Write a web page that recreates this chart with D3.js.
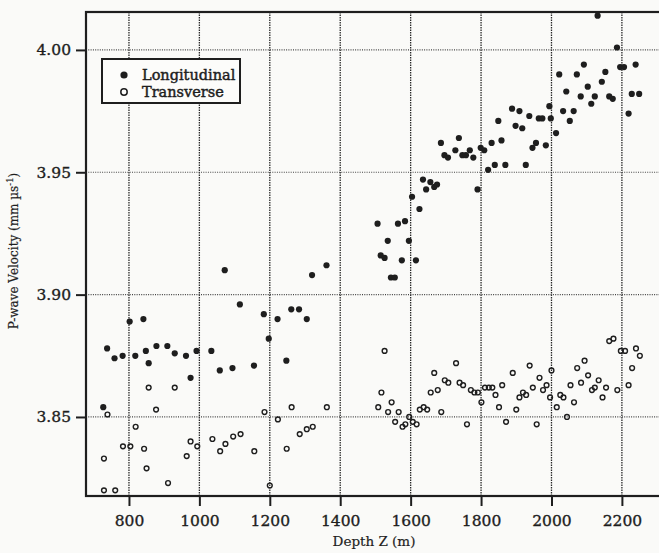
<!DOCTYPE html>
<html>
<head>
<meta charset="utf-8">
<script src="https://cdn.jsdelivr.net/npm/d3@7"></script>
<style>
  body { margin: 0; background: #fafaf8; }
  svg { display: block; }
  text { font-family: 'DejaVu Serif', serif; fill: #1e1e1e; }
</style>
</head>
<body>
<svg id="chart"></svg>
<script>
const INK = '#1e1e1e';
const SERIF = "'DejaVu Serif', serif";

// [depth (m), velocity (mm/us)]
var longitudinal = [
    [727,3.854],[738,3.878],[759,3.874],[782,3.875],[802,3.889],[818,3.875],[841,3.890],[848,3.877],
    [856,3.872],[878,3.879],[909,3.879],[930,3.876],[962,3.875],[975,3.866],[992,3.877],[1034,3.877],
    [1058,3.869],[1072,3.910],[1094,3.870],[1115,3.896],[1155,3.871],[1183,3.892],[1197,3.882],[1222,3.890],
    [1247,3.873],[1261,3.894],[1283,3.894],[1305,3.890],[1320,3.908],[1361,3.912],
    [1506,3.929],[1515,3.916],[1526,3.915],[1535,3.922],[1544,3.907],[1555,3.907],[1564,3.929],[1575,3.914],
    [1584,3.930],[1595,3.922],[1604,3.940],[1615,3.914],[1625,3.935],[1635,3.947],[1644,3.943],[1656,3.946],
    [1667,3.944],[1675,3.945],[1686,3.962],[1696,3.957],[1706,3.956],[1727,3.959],[1737,3.964],[1747,3.957],
    [1757,3.957],[1768,3.959],[1778,3.956],[1790,3.943],[1799,3.960],[1809,3.959],[1820,3.951],[1830,3.962],
    [1839,3.953],[1849,3.971],[1858,3.963],[1869,3.953],[1888,3.976],[1898,3.969],[1909,3.975],[1917,3.968],
    [1927,3.953],[1937,3.973],[1946,3.960],[1956,3.962],[1964,3.972],[1974,3.972],[1984,3.961],[1994,3.977],
    [1998,3.972],[2013,3.966],[2022,3.990],[2033,3.975],[2042,3.983],[2052,3.971],[2063,3.975],[2072,3.990],
    [2083,3.981],[2092,3.994],[2103,3.985],[2113,3.978],[2123,3.981],[2131,4.014],[2143,3.987],[2153,3.991],
    [2164,3.981],[2174,3.980],[2186,4.001],[2195,3.993],[2206,3.993],[2219,3.974],[2228,3.982],[2239,3.994],
    [2249,3.982]
];

var transverse = [
    [729,3.833],[729,3.820],[739,3.851],[761,3.820],[783,3.838],[804,3.838],[819,3.846],[843,3.837],
    [850,3.829],[856,3.862],[877,3.853],[911,3.823],[930,3.862],[964,3.834],[975,3.840],[994,3.838],
    [1037,3.841],[1059,3.836],[1074,3.839],[1096,3.842],[1117,3.843],[1156,3.836],[1185,3.852],[1200,3.822],
    [1223,3.849],[1248,3.837],[1262,3.854],[1285,3.843],[1305,3.845],[1322,3.846],[1362,3.854],
    [1508,3.854],[1517,3.860],[1526,3.877],[1536,3.852],[1546,3.856],[1556,3.848],[1566,3.852],[1577,3.846],
    [1585,3.847],[1596,3.850],[1606,3.848],[1617,3.847],[1626,3.853],[1637,3.854],[1647,3.853],[1657,3.860],
    [1667,3.868],[1677,3.861],[1687,3.852],[1697,3.865],[1707,3.864],[1729,3.872],[1739,3.864],[1749,3.863],
    [1760,3.847],[1771,3.861],[1781,3.860],[1791,3.860],[1801,3.856],[1811,3.862],[1822,3.862],[1832,3.862],
    [1841,3.859],[1851,3.854],[1860,3.863],[1871,3.848],[1890,3.868],[1900,3.853],[1909,3.858],[1919,3.860],
    [1928,3.859],[1938,3.871],[1947,3.862],[1958,3.847],[1966,3.866],[1976,3.861],[1986,3.863],[1996,3.858],
    [2000,3.869],[2015,3.854],[2025,3.859],[2034,3.858],[2044,3.850],[2054,3.863],[2064,3.856],[2073,3.870],
    [2084,3.864],[2094,3.873],[2104,3.867],[2115,3.861],[2123,3.862],[2134,3.865],[2145,3.858],[2155,3.862],
    [2164,3.881],[2176,3.882],[2187,3.861],[2197,3.877],[2209,3.877],[2219,3.863],[2229,3.870],[2240,3.878],
    [2251,3.875]
];

var depthTicks = [800, 1000, 1200, 1400, 1600, 1800, 2000, 2200];
var velocityTicks = [3.85, 3.90, 3.95, 4.00];
var depthRange = [678, 2365];
var velocityRange = [3.8177, 4.0155];
var seriesNames = ['Longitudinal', 'Transverse'];

var width = 659, height = 553;
var plot = {left: 86, right: 680, top: 12, bottom: 496};

var svg = d3.select('#chart').attr('width', width).attr('height', height);

var x = d3.scaleLinear().domain(depthRange).range([plot.left, plot.right]);
var y = d3.scaleLinear().domain(velocityRange).range([plot.bottom, plot.top]);

// grid
var grid = svg.append('g');
grid.selectAll('line.v').data(depthTicks).enter().append('line')
    .attr('x1', d => x(d)).attr('x2', d => x(d))
    .attr('y1', plot.top).attr('y2', plot.bottom)
    .attr('stroke', '#2a2a2a').attr('stroke-width', 1.3).attr('stroke-dasharray', '1.5,1');
grid.selectAll('line.h').data(velocityTicks).enter().append('line')
    .attr('x1', plot.left).attr('x2', plot.right)
    .attr('y1', d => y(d)).attr('y2', d => y(d))
    .attr('stroke', '#444').attr('stroke-width', 1.2).attr('stroke-dasharray', '1,1.3');

// axes
var xAxis = d3.axisBottom(x).tickValues(depthTicks).tickSize(10).tickSizeOuter(0).tickPadding(9)
    .tickFormat(d3.format('d'));
var yAxis = d3.axisLeft(y).tickValues(velocityTicks).tickSize(10).tickSizeOuter(0).tickPadding(5)
    .tickFormat(d3.format('.2f'));

function styleAxis(g) {
    g.attr('font-family', SERIF).attr('font-size', 15.5);
    g.select('.domain').remove();
    g.selectAll('.tick line').attr('stroke', INK).attr('stroke-width', 2);
    g.selectAll('.tick text')
        .attr('fill', INK)
        .attr('stroke', INK).attr('stroke-width', 0.35);
}

svg.append('g').attr('transform', 'translate(0,' + plot.bottom + ')').call(xAxis).call(styleAxis);
svg.append('g').attr('transform', 'translate(' + plot.left + ',0)').call(yAxis).call(styleAxis);

// frame
svg.append('rect')
    .attr('x', plot.left).attr('y', plot.top)
    .attr('width', plot.right - plot.left).attr('height', plot.bottom - plot.top)
    .attr('fill', 'none').attr('stroke', INK).attr('stroke-width', 2.2);

// points
svg.append('g').selectAll('circle').data(transverse).enter().append('circle')
    .attr('cx', d => x(d[0])).attr('cy', d => y(d[1])).attr('r', 2.4)
    .attr('fill', 'none').attr('stroke', INK).attr('stroke-width', 1.4);
svg.append('g').selectAll('circle').data(longitudinal).enter().append('circle')
    .attr('cx', d => x(d[0])).attr('cy', d => y(d[1])).attr('r', 3.1)
    .attr('fill', INK);

// legend
var legend = svg.append('g');
legend.append('rect').attr('x', 102).attr('y', 59).attr('width', 138).attr('height', 44)
    .attr('fill', '#fcfcfa').attr('stroke', INK).attr('stroke-width', 2);
legend.append('circle').attr('cx', 124).attr('cy', 75).attr('r', 3.6).attr('fill', INK);
legend.append('circle').attr('cx', 124).attr('cy', 92).attr('r', 3.2)
    .attr('fill', 'none').attr('stroke', INK).attr('stroke-width', 1.5);
legend.selectAll('text').data(seriesNames).enter().append('text')
    .attr('x', 142).attr('y', (d, i) => 80 + i * 17)
    .attr('font-family', SERIF).attr('font-size', 14.5)
    .attr('stroke', INK).attr('stroke-width', 0.45)
    .text(d => d);

// axis titles
svg.append('text')
    .attr('x', 374).attr('y', 546)
    .attr('text-anchor', 'middle')
    .attr('font-family', SERIF).attr('font-size', 13.5)
    .attr('stroke', INK).attr('stroke-width', 0.2)
    .text('Depth Z (m)');

var yt = svg.append('text')
    .attr('transform', 'translate(18,251) rotate(-90)')
    .attr('text-anchor', 'middle')
    .attr('font-family', SERIF).attr('font-size', 12)
    .attr('stroke', INK).attr('stroke-width', 0.2);
yt.append('tspan').text('P-wave Velocity (mm \u00b5s');
yt.append('tspan').attr('dy', -5).attr('font-size', 8.5).text('-1');
yt.append('tspan').attr('dy', 5).text(')');
</script>
</body>
</html>
